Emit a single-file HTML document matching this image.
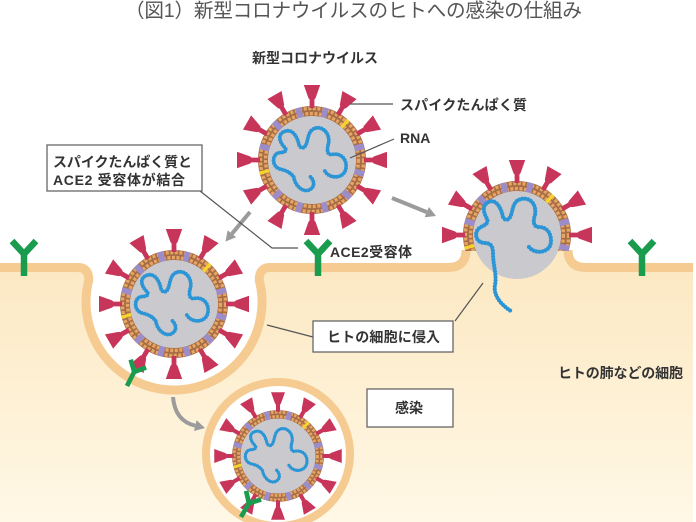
<!DOCTYPE html>
<html><head><meta charset="utf-8"><style>
html,body{margin:0;padding:0;background:#fff;}
svg{display:block;}
text{font-family:"Liberation Sans","Noto Sans CJK JP",sans-serif;}
</style></head><body>
<svg width="696" height="522" viewBox="0 0 696 522" xmlns="http://www.w3.org/2000/svg">
<defs>
<linearGradient id="cg" gradientUnits="userSpaceOnUse" x1="0" y1="260" x2="0" y2="522">
<stop offset="0" stop-color="#fce8c2"/><stop offset="1" stop-color="#fff8e6"/>
</linearGradient>
<clipPath id="rc"><rect x="0" y="0" width="696" height="251"/></clipPath>
<path id="sp" d="M-2.4 -52 V-60.5 L-3.6 -62 L-8.2 -75 L8.2 -75 L3.6 -62 L2.4 -60.5 V-52 Z" fill="#c7365a"/>
<g id="spikes">
<use href="#sp"/><use href="#sp" transform="rotate(30)"/><use href="#sp" transform="rotate(60)"/><use href="#sp" transform="rotate(90)"/>
<use href="#sp" transform="rotate(120)"/><use href="#sp" transform="rotate(150)"/><use href="#sp" transform="rotate(180)"/><use href="#sp" transform="rotate(210)"/>
<use href="#sp" transform="rotate(240)"/><use href="#sp" transform="rotate(270)"/><use href="#sp" transform="rotate(300)"/><use href="#sp" transform="rotate(330)"/>
</g>
<g id="ring">
<circle r="49" fill="none" stroke="#a66c46" stroke-width="10"/>
<circle r="46.4" fill="none" stroke="#e6a663" stroke-width="3.4" stroke-dasharray="3 1.6"/>
<circle r="51.6" fill="none" stroke="#e6a663" stroke-width="3.4" stroke-dasharray="3 1.6"/>
<g fill="#9c8dc9">
<rect x="-3" y="-54" width="6" height="10" transform="rotate(15)"/>
<rect x="-3" y="-54" width="6" height="10" transform="rotate(75)"/>
<rect x="-3" y="-54" width="6" height="10" transform="rotate(105)"/>
<rect x="-3" y="-54" width="6" height="10" transform="rotate(135)"/>
<rect x="-3" y="-54" width="6" height="10" transform="rotate(165)"/>
<rect x="-3" y="-54" width="6" height="10" transform="rotate(-165)"/>
<rect x="-3" y="-54" width="6" height="10" transform="rotate(-135)"/>
<rect x="-3" y="-54" width="6" height="10" transform="rotate(-75)"/>
<rect x="-3" y="-54" width="6" height="10" transform="rotate(-45)"/>
<rect x="-3" y="-54" width="6" height="10" transform="rotate(-15)"/>
</g>
<g fill="#f6d52a">
<rect x="-1.6" y="-54" width="3.2" height="10" transform="rotate(42)"/>
<rect x="-1.6" y="-54" width="3.2" height="10" transform="rotate(-104)"/>
</g>
</g>
<path id="rnap" d="M14 12 C20 22 36 20 37 8 C38 -2 30 -8 22 -6 C16 -5 16 -12 18 -18 C20 -30 10 -38 2 -34 C-4 -31 -4 -24 -6 -18 C-8 -12 -12 -12 -14 -16 C-16 -26 -22 -36 -32 -30 C-38 -26 -34 -18 -30 -14 C-26 -10 -30 -8 -36 -8 C-44 -6 -44 8 -34 10 C-26 12 -24 14 -20 18 C-18 30 -8 36 -2 32 C4 28 2 22 -2 18" fill="none"/>
<g id="rna" transform="scale(0.92)">
<use href="#rnap" stroke="#2b95d6" stroke-width="2.4"/>
<use href="#rnap" stroke="#2b95d6" stroke-width="4.2" stroke-linecap="round" stroke-dasharray="0 3"/>
</g>
<g id="virus">
<circle r="44" fill="#c9c9ce"/>
<use href="#rna"/>
<use href="#ring"/>
<use href="#spikes"/>
</g>
<path id="rec" d="M-12 -35 L0 -22 L12 -35 M0 -22 V0" fill="none" stroke="#1a9c4f" stroke-width="6.5"/>
<path id="rnar" d="M12 12 C18 20 34 18 34 6 C34 -4 28 -8 22 -8 C16 -8 16 -14 18 -20 C20 -32 12 -38 4 -36 C-4 -34 -4 -26 -6 -20 C-8 -14 -12 -14 -14 -18 C-16 -28 -22 -38 -30 -32 C-36 -28 -32 -20 -30 -16 C-28 -12 -32 -10 -36 -8 C-44 -4 -42 8 -32 8 C-26 8 -24 12 -24 18 C-24 30 -20 40 -22 50 C-24 60 -16 70 -6 76" fill="none"/>
</defs>

<!-- cell -->
<path d="M0 267.5 H78 Q88.8 267.5 88.8 280 A88 88 0 1 0 259.2 280 Q259.2 267.5 270 267.5 H448 Q466 267.5 466 250 L568 250 Q568 267.5 586 267.5 H693 V522 H0 Z" fill="url(#cg)"/>
<circle cx="278" cy="454" r="72" fill="#fff" stroke="#f5cb92" stroke-width="8"/>
<path d="M-5 267.5 H78 Q88.8 267.5 88.8 280 A88 88 0 1 0 259.2 280 Q259.2 267.5 270 267.5 H448 Q466 267.5 466 250" fill="none" stroke="#f5cb92" stroke-width="9"/>
<path d="M568 250 Q568 267.5 586 267.5 H693" fill="none" stroke="#f5cb92" stroke-width="9"/>

<!-- receptors -->
<use href="#rec" transform="translate(24,276)"/>
<use href="#rec" transform="translate(318,276)"/>
<use href="#rec" transform="translate(642,276)"/>

<!-- viruses -->
<use href="#virus" transform="translate(312,160)"/>
<use href="#virus" transform="translate(174,304)"/>
<use href="#virus" transform="translate(278,456) scale(0.85)"/>

<!-- right virus (fusing) -->
<g transform="translate(517,235)">
<circle r="44" fill="#c9c9ce"/>
</g>
<g clip-path="url(#rc)"><use href="#ring" transform="translate(517,235)"/></g>
<g transform="translate(517,235)">
<use href="#sp" transform="rotate(-90)"/><use href="#sp" transform="rotate(-60)"/><use href="#sp" transform="rotate(-30)"/><use href="#sp"/>
<use href="#sp" transform="rotate(30)"/><use href="#sp" transform="rotate(60)"/><use href="#sp" transform="rotate(90)"/>
<use href="#rnar" stroke="#2b95d6" stroke-width="2.4"/>
<use href="#rnar" stroke="#2b95d6" stroke-width="4.2" stroke-linecap="round" stroke-dasharray="0 3"/>
</g>

<!-- bound receptors -->
<use href="#rec" transform="translate(127,386) rotate(27) scale(0.72)"/>
<use href="#rec" transform="translate(241,517) rotate(30) scale(0.72)"/>

<!-- arrows -->
<g stroke="#9b9b9b" stroke-width="4" fill="none">
<line x1="250" y1="212" x2="231.9" y2="233.8"/>
<line x1="392" y1="198" x2="426.8" y2="212.1"/>
<path d="M173 397 Q175 421 195.3 425.7"/>
</g>
<g fill="#9b9b9b">
<polygon points="225.5,241.5 236.1,237.3 227.6,230.3"/>
<polygon points="436,216 424.7,217.2 428.9,207"/>
<polygon points="205,428 194,431 196.6,420.3"/>
</g>

<!-- leader lines -->
<g stroke="#555" stroke-width="1.2" fill="none">
<line x1="350" y1="104" x2="393" y2="104"/>
<line x1="350" y1="158" x2="394" y2="139"/>
<polyline points="200,191 272,248 298,248"/>
<line x1="267" y1="325" x2="313" y2="337"/>
<line x1="455" y1="321" x2="483" y2="283"/>
</g>

<!-- boxes -->
<g fill="#fff" stroke="#666" stroke-width="1.3">
<rect x="47" y="145" width="155" height="46"/>
<rect x="313" y="321" width="140" height="31"/>
<rect x="367" y="389" width="86" height="38"/>
</g>

<!-- text -->
<text x="125" y="17" font-size="19.6" fill="#555" textLength="457">（図1）新型コロナウイルスのヒトへの感染の仕組み</text>
<g font-size="14" font-weight="bold" fill="#333">
<text x="252" y="63" textLength="126">新型コロナウイルス</text>
<text x="400" y="110" textLength="127">スパイクたんぱく質</text>
<text x="400" y="143">RNA</text>
<text x="330" y="257" textLength="82">ACE2受容体</text>
<text x="53" y="167" textLength="139">スパイクたんぱく質と</text>
<text x="53" y="185" textLength="132">ACE2 受容体が結合</text>
<text x="327" y="342" textLength="113">ヒトの細胞に侵入</text>
<text x="395" y="413" textLength="28">感染</text>
<text x="558" y="378" textLength="125">ヒトの肺などの細胞</text>
</g>
</svg>
</body></html>
